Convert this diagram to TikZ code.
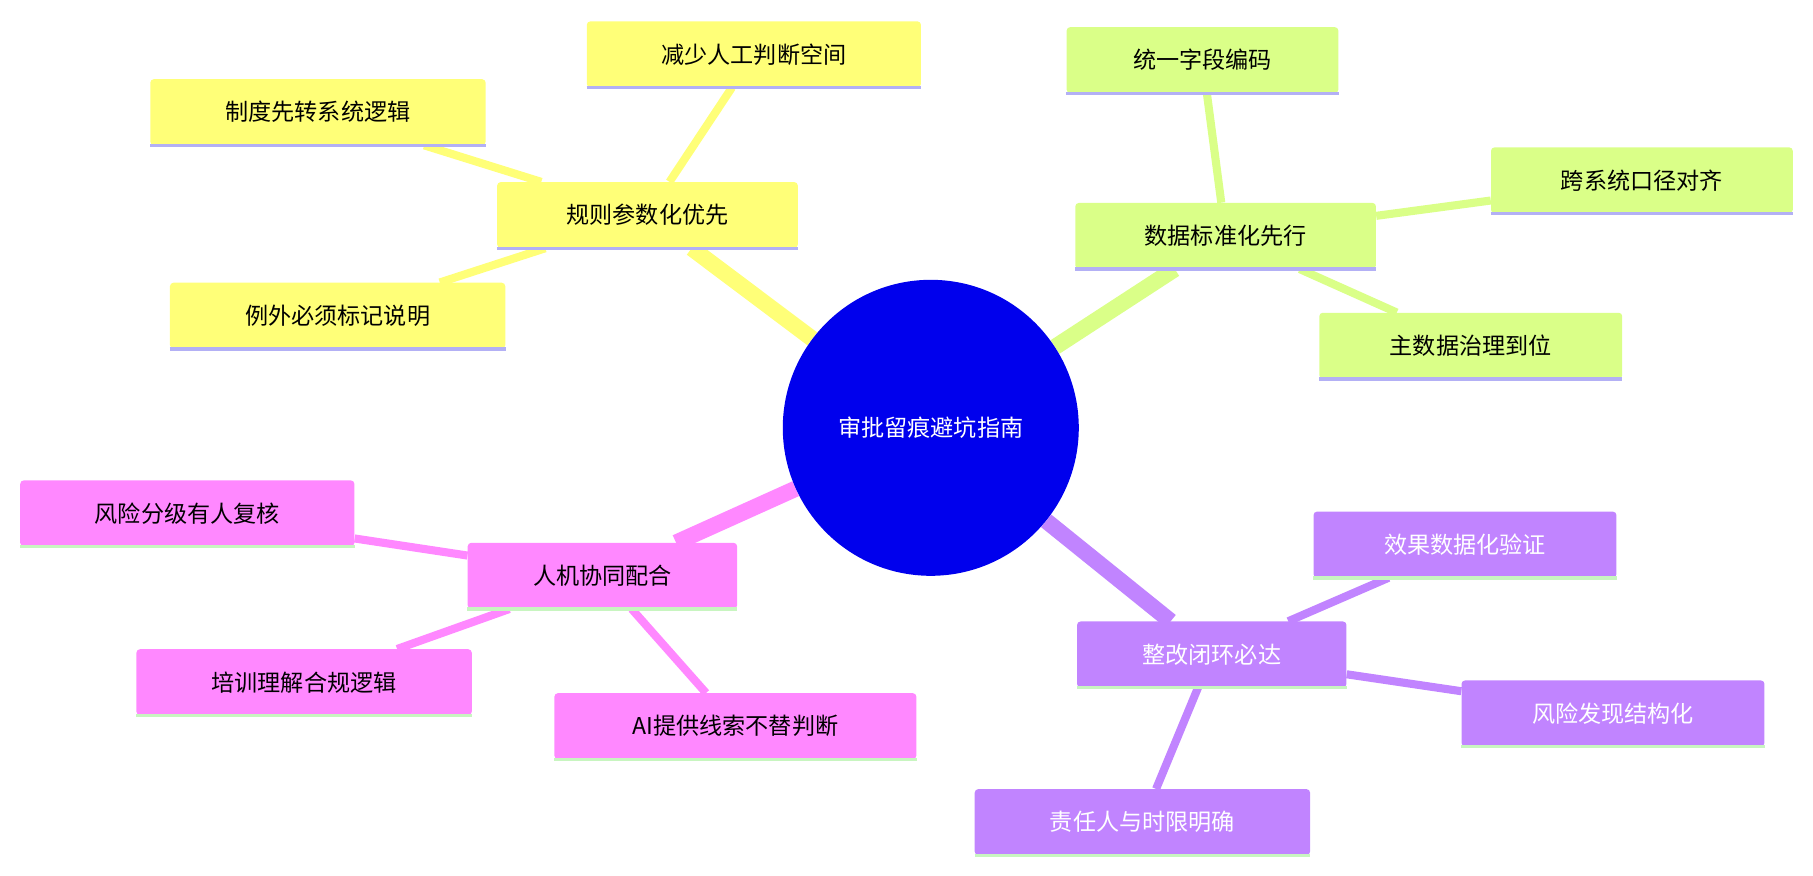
\documentclass[tikz,border=0pt]{standalone}
\usepackage{fontspec}
\newfontfamily\cjk{Noto Sans CJK SC}
\usetikzlibrary{backgrounds}
\definecolor{cy}{HTML}{FFFF78}
\definecolor{cg}{HTML}{DAFF88}
\definecolor{cp}{HTML}{C184FF}
\definecolor{cmag}{HTML}{FF88FF}
\definecolor{lav}{HTML}{B3B0F5}
\definecolor{lgr}{HTML}{C8F5C0}
\begin{document}
\begin{tikzpicture}[x=1pt,y=-1pt,
  box/.style={rounded corners=3pt,minimum height=57pt,inner sep=0pt,font=\cjk\fontsize{20}{24}\selectfont},
  yb/.style={box,fill=cy},
  gb/.style={box,fill=cg},
  pb/.style={box,fill=cp,text=white},
  mb/.style={box,fill=cmag}]
\useasboundingbox (0,0) rectangle (1568,757);
\node[circle,fill=blue!93!black,minimum size=256pt,text=white,font=\cjk\fontsize{20}{24}\selectfont] (c) at (805,370) {审批留痕避坑指南};
\node[yb,minimum width=260pt] (y) at (560,186) {规则参数化优先};
\node[yb,minimum width=289pt] (y1) at (652,47) {减少人工判断空间};
\node[yb,minimum width=290pt] (y2) at (275,97) {制度先转系统逻辑};
\node[yb,minimum width=290pt] (y3) at (292,273) {例外必须标记说明};
\node[gb,minimum width=260pt] (g) at (1060,204) {数据标准化先行};
\node[gb,minimum width=235pt] (g1) at (1040,52) {统一字段编码};
\node[gb,minimum width=261pt] (g2) at (1420,156) {跨系统口径对齐};
\node[gb,minimum width=262pt] (g3) at (1272,299) {主数据治理到位};
\node[pb,minimum width=233pt] (p) at (1048,566) {整改闭环必达};
\node[pb,minimum width=262pt] (p1) at (1267,471) {效果数据化验证};
\node[pb,minimum width=262pt] (p2) at (1395,617) {风险发现结构化};
\node[pb,minimum width=290pt] (p3) at (988,711) {责任人与时限明确};
\node[mb,minimum width=233pt] (m) at (521,498) {人机协同配合};
\node[mb,minimum width=289pt] (m1) at (162,444) {风险分级有人复核};
\node[mb,minimum width=290pt] (m2) at (263,590) {培训理解合规逻辑};
\node[mb,minimum width=313pt] (m3) at (636,628) {AI提供线索不替判断};
\foreach \n/\c in {y/lav,y1/lav,y2/lav,y3/lav,g/lav,g1/lav,g2/lav,g3/lav,p/lgr,p1/lgr,p2/lgr,p3/lgr,m/lgr,m1/lgr,m2/lgr,m3/lgr}
  \draw[line width=3pt,draw=\c] (\n.south west) -- (\n.south east);
\begin{scope}[on background layer]
\draw[draw=cy,line width=14pt] (c) -- (y);
\draw[draw=cg,line width=14pt] (c) -- (g);
\draw[draw=cp,line width=14pt] (c) -- (p);
\draw[draw=cmag,line width=14pt] (c) -- (m);
\foreach \a in {y1,y2,y3} \draw[draw=cy,line width=7pt] (y) -- (\a);
\foreach \a in {g1,g2,g3} \draw[draw=cg,line width=7pt] (g) -- (\a);
\foreach \a in {p1,p2,p3} \draw[draw=cp,line width=7pt] (p) -- (\a);
\foreach \a in {m1,m2,m3} \draw[draw=cmag,line width=7pt] (m) -- (\a);
\end{scope}
\end{tikzpicture}
\end{document}
